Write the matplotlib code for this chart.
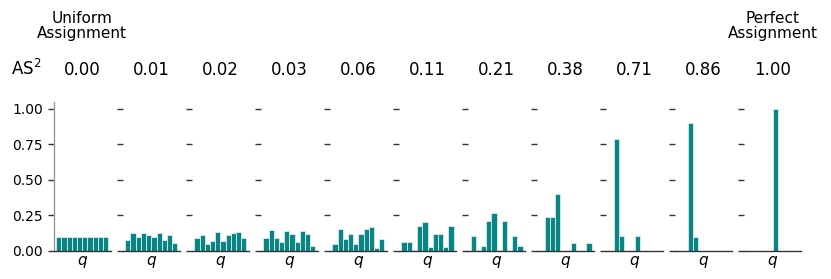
import numpy as np
import matplotlib
matplotlib.use("Agg")
import matplotlib.pyplot as plt

# AS^2 value shown above each panel
AS2_LABELS = ["0.00", "0.01", "0.02", "0.03", "0.06", "0.11", "0.21", "0.38", "0.71", "0.86", "1.00"]

# distribution over q (10 bins) for each panel
DIST_000 = [0.10, 0.10, 0.10, 0.10, 0.10, 0.10, 0.10, 0.10, 0.10, 0.10]
DIST_001 = [0.078, 0.125, 0.096, 0.129, 0.113, 0.096, 0.125, 0.078, 0.113, 0.059]
DIST_002 = [0.094, 0.115, 0.049, 0.073, 0.132, 0.073, 0.115, 0.129, 0.134, 0.094]
DIST_003 = [0.089, 0.148, 0.089, 0.061, 0.141, 0.118, 0.061, 0.141, 0.118, 0.038]
DIST_006 = [0.047, 0.155, 0.082, 0.122, 0.047, 0.122, 0.155, 0.167, 0.024, 0.082]
DIST_011 = [0.066, 0.066, 0.009, 0.179, 0.202, 0.028, 0.122, 0.122, 0.028, 0.179]
DIST_021 = [0.108, 0.005, 0.035, 0.214, 0.266, 0.005, 0.214, 0.0, 0.108, 0.035]
DIST_038 = [0.0, 0.242, 0.242, 0.40, 0.0, 0.0, 0.054, 0.0, 0.0, 0.054]
DIST_071 = [0.0, 0.788, 0.108, 0.0, 0.0, 0.108, 0.0, 0.0, 0.0, 0.0]
DIST_086 = [0.0, 0.0, 0.90, 0.10, 0.0, 0.0, 0.0, 0.0, 0.0, 0.0]
DIST_100 = [0.0, 0.0, 0.0, 0.0, 0.0, 1.0, 0.0, 0.0, 0.0, 0.0]

DISTS = [DIST_000, DIST_001, DIST_002, DIST_003, DIST_006, DIST_011,
         DIST_021, DIST_038, DIST_071, DIST_086, DIST_100]
Y_TICKS = [0.0, 0.25, 0.5, 0.75, 1.0]

BAR_COLOR = "#0b8584"

W, H = 831, 279
fig = plt.figure(figsize=(W / 100, H / 100), dpi=100)

# layout in pixels
LEFT0 = 53.6
STEP = 69.05
AX_W = 57.3
AX_BOTTOM = 251.0
AX_TOP = 101.7

axes = []
for i, dist in enumerate(DISTS):
    x0 = LEFT0 + STEP * i
    ax = fig.add_axes([x0 / W, 1 - AX_BOTTOM / H, AX_W / W, (AX_BOTTOM - AX_TOP) / H])
    ax.bar(np.arange(len(dist)), dist, width=1.0, color=BAR_COLOR,
           edgecolor="#d8eeee", linewidth=0.6)
    ax.set_xlim(-1.0, 10.0)
    ax.set_ylim(0, 1.05)
    ax.set_yticks(Y_TICKS)
    ax.set_xticks([])
    ax.spines["top"].set_visible(False)
    ax.spines["right"].set_visible(False)
    ax.spines["bottom"].set_color("#333333")
    ax.spines["bottom"].set_linewidth(1.0)
    ax.tick_params(axis="y", length=4, width=1.0, color="#333333", labelsize=10)
    if i == 0:
        ax.spines["left"].set_color("#999999")
        ax.spines["left"].set_linewidth(1.0)
        ax.set_yticklabels([f"{t:.2f}" for t in Y_TICKS])
    else:
        ax.spines["left"].set_visible(False)
        ax.set_yticklabels([])
    ax.set_xlabel("$q$", fontsize=11, labelpad=2.5)
    # AS^2 value above the panel
    fig.text((x0 + AX_W / 2) / W, 1 - 70 / H, AS2_LABELS[i],
             ha="center", va="center", fontsize=12)
    axes.append(ax)

fig.text(26 / W, 1 - 69 / H, "AS$^2$", ha="center", va="center", fontsize=12)

c0 = LEFT0 + AX_W / 2
c1 = LEFT0 + STEP * 10 + AX_W / 2
fig.text(c0 / W, 1 - 26 / H, "Uniform\nAssignment", ha="center", va="center",
         fontsize=11, linespacing=1.0)
fig.text(c1 / W, 1 - 26 / H, "Perfect\nAssignment", ha="center", va="center",
         fontsize=11, linespacing=1.0)

fig.savefig("out.png", dpi=100)
